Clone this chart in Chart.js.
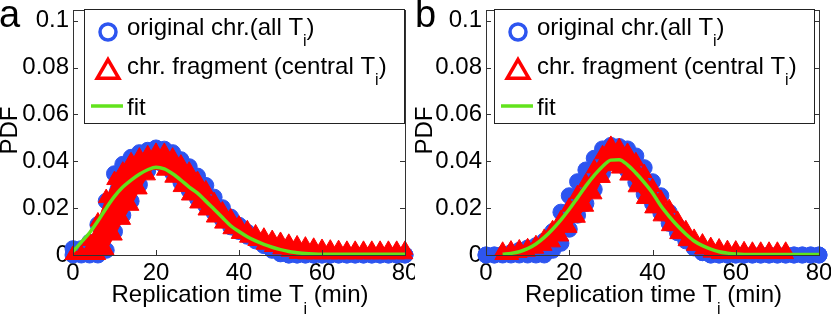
<!DOCTYPE html>
<html>
<head>
<meta charset="UTF-8">
<title>Replication time PDF</title>
<script src="https://cdn.jsdelivr.net/npm/chart.js"></script>
<style>
  body { margin: 0; background: #fff; }
  canvas { position: absolute; top: 0; }
</style>
</head>
<body>
<canvas id="chartA" width="415" height="315" style="left:0"></canvas>
<canvas id="chartB" width="416" height="315" style="left:415px"></canvas>
<script>
// --- values (PDF vs replication time, every 2 min) ---
const minutes = [0,2,4,6,8,10,12,14,16,18,20,22,24,26,28,30,32,34,36,38,40,42,44,46,48,50,52,54,56,58,60,62,64,66,68,70,72,74,76,78,80];
const xTicks = [0, 20, 40, 60, 80];
const yTicks = [0, 0.02, 0.04, 0.06, 0.08, 0.1];

// panel a
const fitA = [0.0015,0.0055,0.0095,0.0145,0.020,0.025,0.029,0.032,0.0345,0.0364,
  0.0375,0.0368,0.0347,0.032,0.029,0.0264,0.023,0.0195,0.016,0.0125,
  0.010,0.0078,0.006,0.0045,0.0033,0.0023,0.0015,0.001,0.0006,0.0004,
  0.0003,0.0003,0.0003,0.0003,0.0003,0.0003,0.0003,0.0003,0.0003,0.0003,0.0003];
const fragUpperA = [0,0.0005,0.006,0.0143,0.0243,0.032,0.036,0.040,0.042,0.043,
  0.044,0.044,0.042,0.039,0.036,0.032,0.028,0.023,0.019,0.016,
  0.013,0.011,0.0092,0.0078,0.0068,0.006,0.0052,0.0045,0.004,0.0035,
  0.003,0.0027,0.0025,0.0022,0.0022,0.0022,0.0022,0.0022,0.0022,0.0022,0.0022];
const fragLowerA = [0,0,0,0,0.002,0.0083,0.015,0.021,0.028,0.034,
  0.0384,0.036,0.033,0.029,0.0254,0.022,0.019,0.016,0.0134,0.011,
  0.009,0.0074,0.006,0.0044,0.0034,0.0024,0.0014,0.0005,0.0003,0.0003,
  0.0003,0.0003,0.0003,0.0003,0.0003,0.0003,0.0003,0.0003,0.0003,0.0003,0.0003];
const origUpperA = [0.0027,0.0027,0.0055,0.013,0.023,0.0347,0.0387,0.0417,0.0437,0.0447,
  0.0457,0.0452,0.0437,0.0407,0.0377,0.0337,0.0297,0.0247,0.0202,0.0162,
  0.0127,0.0097,0.0067,0.0047,0.0027,0.0007,0,0,0,0,
  0,0,0,0,0,0,0,0,0,0,0];
const origLowerA = [0,0,0,0,0.002,0.010,0.017,0.023,0.030,0.036,
  0.0405,0.038,0.035,0.031,0.0275,0.024,0.021,0.018,0.015,0.012,
  0.010,0.008,0.006,0.004,0.002,0.0005,0,0,0,0,
  0,0,0,0,0,0,0,0,0,0,0];

// panel b
const fitB = [null,null,0.0003,0.0007,0.0014,0.0027,0.0047,0.0075,0.011,0.015,
  0.0195,0.0245,0.0295,0.034,0.0378,0.0405,0.0407,0.0385,0.035,0.031,
  0.0265,0.021,0.0165,0.0125,0.009,0.006,0.004,0.0025,0.0014,0.0008,
  0.0004,0.0002,0.0002,0.0002,0.0002,0.0002,0.0002,0.0002,0.0002,0.0002,0.0002];
const fragUpperB = [null,null,0.0018,0.0023,0.0028,0.0033,0.0046,0.0073,0.011,0.0153,
  0.0206,0.026,0.031,0.037,0.043,0.047,0.046,0.044,0.040,0.035,
  0.029,0.024,0.020,0.015,0.011,0.0073,0.0053,0.0038,0.0032,0.0025,
  0.0023,0.002,0.0018,0.0018,0.0018,0.0018,0.0018,null,null,null,null];
const fragLowerB = [null,null,0,0,0.0009,0.0014,0.0027,0.0039,0.0054,0.0079,
  0.0116,0.0159,0.0206,0.0259,0.0329,0.0379,0.0369,0.0339,0.0289,0.0239,
  0.0199,0.0165,0.0123,0.0089,0.0059,0.0039,0.0024,0.001,0.0004,0.0004,
  0.0004,0.0004,0.0004,0.0004,0.0004,0.0004,0.0004,null,null,null,null];
const origUpperB = [0,0,0.0003,0.001,0.002,0.003,0.004,0.006,0.010,0.0183,
  0.0253,0.0313,0.0363,0.0413,0.0453,0.0468,0.0463,0.0453,0.0423,0.0373,
  0.0313,0.0253,0.0183,0.0123,0.0073,0.0033,0.001,0,0,0,
  0,0,0,0,0,0,0,0,0,0,0];
const origLowerB = [0,0,0,0,0,0,0,0,0.002,0.005,
  0.011,0.017,0.022,0.028,0.035,0.040,0.039,0.036,0.031,0.026,
  0.022,0.018,0.0135,0.0095,0.006,0.003,0.001,0,0,0,
  0,0,0,0,0,0,0,0,0,0,0];

// text pieces (sub = subscript)
const legendRows = [
  [{ t: 'original chr.(all T' }, { t: 'i', sub: true }, { t: ')' }],
  [{ t: 'chr. fragment (central T' }, { t: 'i', sub: true }, { t: ')' }],
  [{ t: 'fit' }]
];
const xTitle = [{ t: 'Replication time T' }, { t: 'i', sub: true }, { t: ' (min)' }];
const yTitle = 'PDF';

// --- styles ---
const BLUE = '#2d55f0';
const RED = '#ff0000';
const GREEN = '#62e31c';
const AXIS_COLOR = '#333';
const FAMILY = '"Liberation Sans", Arial, Helvetica, sans-serif';
const MAIN_FONT = '24px ' + FAMILY;
const SUB_FONT = '16px ' + FAMILY;

Chart.defaults.font.family = FAMILY;
Chart.defaults.font.size = 24;
Chart.defaults.color = '#000';

function toPoints(values) {
    return minutes.map((m, i) => ({ x: m, y: values[i] }));
}

function band(label, values, color, style, radius, fillTo) {
    return {
        label, data: toPoints(values),
        borderColor: color, borderWidth: 1, backgroundColor: color,
        pointStyle: style, pointRadius: radius,
        pointBackgroundColor: color, pointBorderColor: color, pointBorderWidth: 1,
        fill: fillTo, clip: false, tension: 0
    };
}

// text with subscript pieces
function drawParts(ctx, parts, x, y, align, subDrop) {
    let total = 0;
    parts.forEach(p => { ctx.font = p.sub ? SUB_FONT : MAIN_FONT; total += ctx.measureText(p.t).width; });
    let cx = align === 'center' ? x - total / 2 : x;
    ctx.textAlign = 'left';
    ctx.textBaseline = 'alphabetic';
    parts.forEach(p => {
        ctx.font = p.sub ? SUB_FONT : MAIN_FONT;
        ctx.fillText(p.t, cx, p.sub ? y + subDrop : y);
        cx += ctx.measureText(p.t).width;
    });
}

function makeDecor(p) {
    return {
        id: 'decor',
        afterDraw(chart) {
            const ctx = chart.ctx, a = chart.chartArea;
            const xs = chart.scales.x, ys = chart.scales.y;
            ctx.save();
            ctx.strokeStyle = AXIS_COLOR;
            ctx.lineWidth = 1;
            ctx.strokeRect(a.left + 0.5, a.top + 0.5, a.right - a.left, a.bottom - a.top);
            ctx.beginPath();
            xTicks.forEach(v => {
                const px = Math.round(xs.getPixelForValue(v)) + 0.5;
                ctx.moveTo(px, a.bottom); ctx.lineTo(px, a.bottom - 5);
                ctx.moveTo(px, a.top); ctx.lineTo(px, a.top + 5);
            });
            yTicks.forEach(v => {
                const py = Math.round(ys.getPixelForValue(v)) + 0.5;
                ctx.moveTo(a.left, py); ctx.lineTo(a.left + 5, py);
                ctx.moveTo(a.right, py); ctx.lineTo(a.right - 5, py);
            });
            ctx.stroke();

            // legend box
            const L = p.legendLeft, T = 9, R = p.legendRight, B = 123;
            ctx.fillStyle = '#fff';
            ctx.fillRect(L, T, R - L, B - T);
            ctx.strokeStyle = '#222';
            ctx.strokeRect(L + 0.5, T + 0.5, R - L, B - T);
            const mx = L + 24;
            ctx.lineWidth = 3.5;
            ctx.strokeStyle = BLUE; ctx.fillStyle = '#fff';
            Chart.helpers.drawPoint(ctx, { pointStyle: 'circle', radius: 8, borderWidth: 3.5, rotation: 0 }, mx, 32);
            ctx.strokeStyle = RED; ctx.fillStyle = '#fff';
            Chart.helpers.drawPoint(ctx, { pointStyle: 'triangle', radius: 12.5, borderWidth: 3.5, rotation: 0 }, mx, 72);
            ctx.strokeStyle = GREEN;
            ctx.beginPath(); ctx.moveTo(L + 7, 106); ctx.lineTo(L + 39, 106); ctx.stroke();
            ctx.fillStyle = '#000';
            const baselines = [35, 74, 115];
            legendRows.forEach((row, i) => drawParts(ctx, row, L + 43, baselines[i], 'left', 11));

            // axis titles and panel letter
            drawParts(ctx, xTitle, (a.left + a.right) / 2 + 1, 302, 'center', 12);
            ctx.save();
            ctx.translate(p.yTitleX, (a.top + a.bottom) / 2 - 2);
            ctx.rotate(-Math.PI / 2);
            ctx.font = MAIN_FONT; ctx.textAlign = 'center'; ctx.textBaseline = 'alphabetic';
            ctx.fillText(yTitle, 0, 0);
            ctx.restore();
            ctx.font = '38px ' + FAMILY; ctx.textAlign = 'left';
            ctx.fillText(p.letter, p.letterX, 27);
            ctx.restore();
        }
    };
}

function makePanel(id, p) {
    new Chart(document.getElementById(id), {
        type: 'line',
        data: {
            datasets: [
                { label: 'fit', data: toPoints(p.fit), borderColor: GREEN, borderWidth: 3.5,
                  pointRadius: 0, fill: false, cubicInterpolationMode: 'monotone' },
                band('chr. fragment (central Ti)', p.fragUpper, RED, 'triangle', 9, false),
                band('fragment lower', p.fragLower, RED, 'triangle', 9, 1),
                band('original chr.(all Ti)', p.origUpper, BLUE, 'circle', 8, false),
                band('original lower', p.origLower, BLUE, 'circle', 8, 3)
            ]
        },
        options: {
            responsive: false,
            devicePixelRatio: 1,
            animation: false,
            events: [],
            layout: { padding: { top: 4, right: p.padRight, bottom: 0, left: 0 } },
            plugins: { legend: { display: false }, tooltip: { enabled: false } },
            scales: {
                x: {
                    type: 'linear', min: 0, max: 80,
                    grid: { display: false, drawTicks: false },
                    border: { display: false },
                    ticks: { padding: 4, maxRotation: 0, callback: v => String(v) },
                    afterBuildTicks: s => { s.ticks = xTicks.map(v => ({ value: v })); },
                    afterFit: s => { s.height = 60; s.paddingLeft = 0; s.paddingRight = 0; }
                },
                y: {
                    type: 'linear', min: 0, max: 0.1046,
                    grid: { display: false, drawTicks: false },
                    border: { display: false },
                    ticks: { padding: 4, callback: v => String(v) },
                    afterBuildTicks: s => { s.ticks = yTicks.map(v => ({ value: v })); },
                    afterFit: s => { s.width = p.axisWidth; s.paddingTop = 0; s.paddingBottom = 0; }
                }
            }
        },
        plugins: [makeDecor(p)]
    });
}

makePanel('chartA', {
    fit: fitA, fragUpper: fragUpperA, fragLower: fragLowerA, origUpper: origUpperA, origLower: origLowerA,
    axisWidth: 73, padRight: 8, legendLeft: 84, legendRight: 404, yTitleX: 17, letter: 'a', letterX: -1
});
makePanel('chartB', {
    fit: fitB, fragUpper: fragUpperB, fragLower: fragLowerB, origUpper: origUpperB, origLower: origLowerB,
    axisWidth: 71, padRight: 12, legendLeft: 79, legendRight: 399, yTitleX: 17, letter: 'b', letterX: 0
});
</script>
</body>
</html>
